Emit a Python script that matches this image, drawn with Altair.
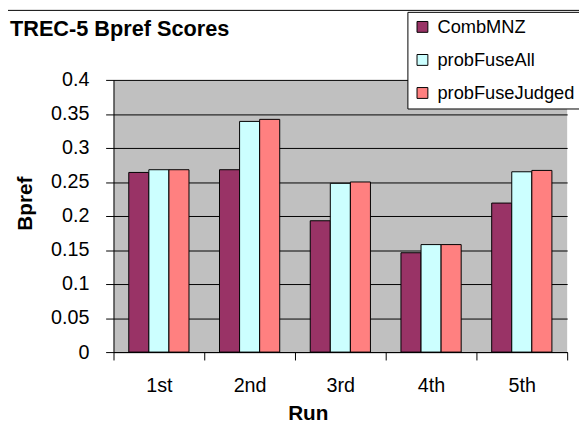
import altair as alt
import pandas as pd

runs = ["1st", "2nd", "3rd", "4th", "5th"]
series = ["CombMNZ", "probFuseAll", "probFuseJudged"]
combmnz = [0.264, 0.268, 0.193, 0.146, 0.219]
prob_all = [0.268, 0.339, 0.248, 0.158, 0.265]
prob_judged = [0.268, 0.342, 0.250, 0.158, 0.267]
colors = ["#993366", "#CCFFFF", "#FF8080"]
y_ticks = [0, 0.05, 0.1, 0.15, 0.2, 0.25, 0.3, 0.35, 0.4]

rows = []
for name, vals in zip(series, [combmnz, prob_all, prob_judged]):
    for r, v in zip(runs, vals):
        rows.append({"Run": r, "Series": name, "Bpref": v})
df = pd.DataFrame(rows)

FONT = "Liberation Sans"

bars = alt.Chart(df).mark_bar(stroke="black", strokeWidth=1).encode(
    x=alt.X("Run:N", sort=runs,
            scale=alt.Scale(paddingInner=0, paddingOuter=0),
            axis=alt.Axis(title="Run", labelAngle=0, labelFontSize=20, labelFont=FONT,
                          labelColor="black", labelPadding=16, tickBand="extent",
                          tickColor="black", tickSize=8, domainColor="black",
                          titleFontSize=21, titleFont=FONT, titleFontWeight="bold",
                          titleColor="black", titleX=197, titleY=62,
                          titleBaseline="middle", grid=False)),
    xOffset=alt.XOffset("Series:N", sort=series,
                        scale=alt.Scale(paddingInner=0, paddingOuter=0.76)),
    y=alt.Y("Bpref:Q", scale=alt.Scale(domain=[0, 0.4], nice=False),
            axis=alt.Axis(title="Bpref", values=y_ticks, format="~g",
                          labelFontSize=20, labelFont=FONT, labelColor="black",
                          labelPadding=17, tickColor="black", tickSize=8,
                          domainColor="black", gridColor="black", gridOpacity=1,
                          titleFontSize=21, titleFont=FONT, titleFontWeight="bold",
                          titleColor="black", titleX=-89, titleY=125,
                          titleBaseline="middle")),
    color=alt.Color("Series:N", sort=series,
                    scale=alt.Scale(domain=series, range=colors),
                    legend=alt.Legend(title=None, orient="none", legendX=298, legendY=-69,
                                      fillColor="white", strokeColor="black",
                                      padding=6, symbolType="square", symbolSize=121,
                                      symbolStrokeColor="black", symbolStrokeWidth=1,
                                      labelFontSize=18.5, labelFont=FONT, labelColor="black",
                                      labelLimit=200, rowPadding=14.5, labelOffset=6)),
)

frame = alt.Chart(alt.Data(values=[{}])).mark_rect(
    filled=False, stroke="black", strokeWidth=1, clip=False
).encode(
    x=alt.value(-107.5), x2=alt.value(700),
    y=alt.value(-70.5), y2=alt.value(600),
)

chart = alt.layer(frame, bars).properties(
    width=460, height=276,
    autosize=alt.AutoSizeParams(type="none"),
    padding={"left": 107, "top": 70, "right": 12, "bottom": 70},
    view=alt.ViewBackground(fill="#C0C0C0", strokeWidth=0),
    title=alt.TitleParams("TREC-5 Bpref Scores", anchor="start", frame="group",
                          dx=-105, dy=31, offset=0, fontSize=22, font=FONT,
                          fontWeight="bold", color="black"),
).configure(background="white")

chart.save("out.html", embed_options={"renderer": "svg", "actions": False})
